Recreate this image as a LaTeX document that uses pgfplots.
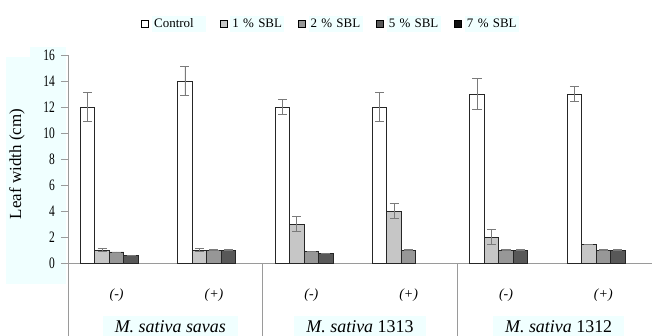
\documentclass[border=0pt]{standalone}
\usepackage{pgfplots}
\pgfplotsset{compat=1.18}
\usepackage{fontspec}
\setmainfont{Liberation Serif}
\newfontfamily\tickfont[FakeStretch=0.72]{Liberation Serif}
\definecolor{cA}{HTML}{C6C6C6}
\definecolor{cB}{HTML}{979797}
\definecolor{cC}{HTML}{585858}
\definecolor{cD}{HTML}{111111}
\definecolor{bgc}{HTML}{F0FFFF}
\definecolor{axc}{HTML}{9A9A9A}
\definecolor{errc}{HTML}{7A7A7A}
\begin{document}
\begin{tikzpicture}
\useasboundingbox (-68bp,-73bp) rectangle (584bp,263bp);
\fill[bgc] (-62bp,-21bp) rectangle (-38bp,206bp);
\fill[bgc] (-38bp,-21bp) rectangle (-2bp,216bp);
\begin{axis}[
  scale only axis, width=584bp, height=208bp,
  at={(0,0)}, anchor=south west,
  bar width=14.5bp,
  xmin=-0.5, xmax=5.5, ymin=0, ymax=16,
  xtick={0,...,5}, xticklabels={(-),(+),(-),(+),(-),(+)},
  ytick={0,2,...,16},
  axis x line*=bottom, axis y line*=left,
  axis line style={draw=axc, line width=0.8bp, -},
  major tick length=7bp, tick align=outside,
  ytick style={draw=axc, line width=0.8bp},
  xtick style={draw=none},
  extra x ticks={-0.5,1.5,3.5}, extra x tick labels={},
  extra x tick style={major tick length=73bp, tick align=outside, xtick style={draw=axc, line width=0.8bp}},
  /pgf/number format/assume math mode=true,
  yticklabel style={font=\fontsize{16}{17}\tickfont, inner xsep=2bp, xshift=-4bp},
  xticklabel style={font=\fontsize{14}{15}\selectfont\itshape, yshift=-15bp},
  ylabel={Leaf width (cm)},
  ylabel style={at={(axis description cs:-0.0873,0.476)}, anchor=center, font=\fontsize{17}{19}\selectfont},
  legend style={at={(axis description cs:0.449,1)}, anchor=center, yshift=31bp,
    draw=none, fill=none, legend columns=5, font=\fontsize{13}{15}\selectfont,
    /tikz/every even column/.append style={column sep=13.5bp},
    /tikz/every odd column/.append style={column sep=3bp},
    cells={anchor=west},
    nodes={fill=bgc, text width=50bp, inner xsep=2bp, inner ysep=3bp, align=left}},
  clip=false,
]
\addplot[ybar, forget plot, bar shift=-29bp, fill=white, draw=black!85, line width=0.9bp,
  error bars/.cd, y dir=both, y explicit, error mark=|,
  error bar style={errc, line width=0.9bp, xshift=-29bp}, error mark options={errc, mark size=4.5bp, line width=0.9bp}]
  coordinates {(0,12) +- (0,1.1) (1,14) +- (0,1.15) (2,12) +- (0,0.6) (3,12) +- (0,1.15) (4,13) +- (0,1.2) (5,13) +- (0,0.55)};
\addplot[ybar, forget plot, bar shift=-14.5bp, fill=cA, draw=black!85, line width=0.9bp,
  error bars/.cd, y dir=both, y explicit, error mark=|,
  error bar style={errc, line width=0.9bp, xshift=-14.5bp}, error mark options={errc, mark size=4.5bp, line width=0.9bp}]
  coordinates {(0,1.0) +- (0,0.1) (1,1.0) +- (0,0.1) (2,3.0) +- (0,0.55) (3,4.0) +- (0,0.55) (4,2.0) +- (0,0.55) (5,1.45) +- (0,0)};
\addplot[ybar, forget plot, bar shift=0bp, fill=cB, draw=black!85, line width=0.9bp,
  error bars/.cd, y dir=both, y explicit, error mark=|,
  error bar style={errc, line width=0.9bp}, error mark options={errc, mark size=4.5bp, line width=0.9bp}]
  coordinates {(0,0.85) +- (0,0) (1,1.0) +- (0,0.05) (2,0.9) +- (0,0) (3,1.0) +- (0,0.05) (4,1.0) +- (0,0.05) (5,1.0) +- (0,0.05)};
\addplot[ybar, forget plot, bar shift=14.5bp, fill=cC, draw=black!85, line width=0.9bp,
  error bars/.cd, y dir=both, y explicit, error mark=|,
  error bar style={errc, line width=0.9bp, xshift=14.5bp}, error mark options={errc, mark size=4.5bp, line width=0.9bp}]
  coordinates {(0,0.55) +- (0,0) (1,1.0) +- (0,0.07) (2,0.75) +- (0,0) (4,1.0) +- (0,0.05) (5,1.0) +- (0,0.05)};
\addlegendimage{legend image code/.code={\draw[fill=white,draw=black,line width=0.7bp] (0bp,-3.5bp) rectangle (7bp,3.5bp);}}
\addlegendentry{Control}
\addlegendimage{legend image code/.code={\draw[fill=cA,draw=black,line width=0.7bp] (0bp,-3.5bp) rectangle (7bp,3.5bp);}}
\addlegendentry{1 \% SBL}
\addlegendimage{legend image code/.code={\draw[fill=cB,draw=black,line width=0.7bp] (0bp,-3.5bp) rectangle (7bp,3.5bp);}}
\addlegendentry{2 \% SBL}
\addlegendimage{legend image code/.code={\draw[fill=cC,draw=black,line width=0.7bp] (0bp,-3.5bp) rectangle (7bp,3.5bp);}}
\addlegendentry{5 \% SBL}
\addlegendimage{legend image code/.code={\draw[fill=cD,draw=black,line width=0.7bp] (0bp,-3.5bp) rectangle (7bp,3.5bp);}}
\addlegendentry{7 \% SBL}
\node[font=\fontsize{18}{20}\selectfont, anchor=base, fill=bgc, inner xsep=12bp, inner ysep=4bp, xshift=5bp, yshift=-69bp] at (axis cs:0.5,0) {\textit{M. sativa savas}};
\node[font=\fontsize{18}{20}\selectfont, anchor=base, fill=bgc, inner xsep=12bp, inner ysep=4bp, yshift=-69bp] at (axis cs:2.5,0) {\textit{M. sativa} 1313};
\node[font=\fontsize{18}{20}\selectfont, anchor=base, fill=bgc, inner xsep=12bp, inner ysep=4bp, xshift=4bp, yshift=-69bp] at (axis cs:4.5,0) {\textit{M. sativa} 1312};
\end{axis}
\end{tikzpicture}
\end{document}
